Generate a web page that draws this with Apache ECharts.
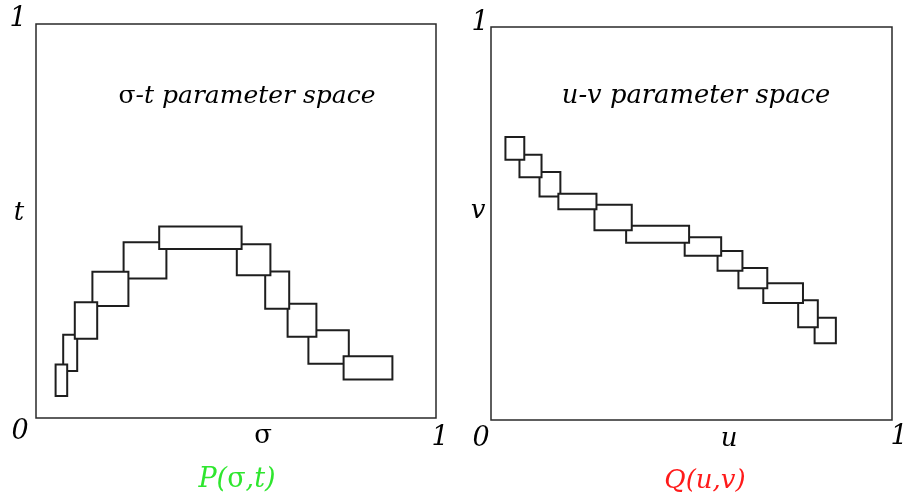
<!DOCTYPE html>
<html>
<head>
<meta charset="utf-8">
<script src="https://cdn.jsdelivr.net/npm/echarts@6/dist/echarts.min.js"></script>
<style>
html,body{margin:0;padding:0;background:#fff;}
#chart{width:909px;height:500px;}
</style>
</head>
<body>
<div id="chart"></div>
<script>
// Cells in sigma-t parameter space: [x0, y0, x1, y1] (unit square)
var sigmaTCells = [
  [0.049, 0.056, 0.078, 0.136],
  [0.068, 0.119, 0.103, 0.211],
  [0.097, 0.201, 0.153, 0.294],
  [0.141, 0.284, 0.231, 0.371],
  [0.219, 0.354, 0.326, 0.446],
  [0.308, 0.429, 0.514, 0.486],
  [0.502, 0.362, 0.586, 0.441],
  [0.573, 0.277, 0.633, 0.372],
  [0.629, 0.206, 0.701, 0.290],
  [0.681, 0.138, 0.782, 0.223],
  [0.769, 0.098, 0.891, 0.157]
];
// Cells in u-v parameter space: [x0, y0, x1, y1]
var uvCells = [
  [0.036, 0.662, 0.083, 0.720],
  [0.071, 0.618, 0.126, 0.675],
  [0.121, 0.569, 0.173, 0.631],
  [0.168, 0.536, 0.263, 0.576],
  [0.258, 0.483, 0.351, 0.548],
  [0.337, 0.451, 0.494, 0.494],
  [0.483, 0.418, 0.574, 0.465],
  [0.565, 0.380, 0.627, 0.430],
  [0.617, 0.335, 0.689, 0.387],
  [0.679, 0.298, 0.778, 0.348],
  [0.766, 0.236, 0.815, 0.305],
  [0.807, 0.195, 0.860, 0.260]
];
var axisEndLabels = ['0', '1'];
var leftTitle = 'σ-t parameter space';
var rightTitle = 'u-v parameter space';
var leftAxisNames = ['σ', 't'];
var rightAxisNames = ['u', 'v'];
var leftFunc = 'P(σ,t)';
var rightFunc = 'Q(u,v)';

// drawing order (stacking) of overlapping cells
var sigmaTLayer = [3, 1, 3, 2, 0, 4, 3, 2, 1, 0, 1];
var uvLayer = [11, 10, 8, 9, 7, 6, 5, 4, 3, 2, 1, 0];

var chart = echarts.init(document.getElementById('chart'));
var FONT = 'DejaVu Serif';

function hiddenAxis(idx) {
  return {type: 'value', min: 0, max: 1, gridIndex: idx,
    axisLine: {show: false}, axisTick: {show: false},
    axisLabel: {show: false}, splitLine: {show: false}};
}
function cellSeries(cells, layers, idx) {
  return {
    type: 'custom', xAxisIndex: idx, yAxisIndex: idx,
    data: cells.map(function (c, i) { return c.concat([layers[i]]); }),
    encode: {x: [0, 2], y: [1, 3]},
    renderItem: function (params, api) {
      var p0 = api.coord([api.value(0), api.value(1)]);
      var p1 = api.coord([api.value(2), api.value(3)]);
      return {
        type: 'rect',
        z2: api.value(4),
        shape: {x: p0[0], y: p1[1], width: p1[0] - p0[0], height: p0[1] - p1[1]},
        style: {fill: '#fff', stroke: '#1e1e1e', lineWidth: 2}
      };
    }
  };
}
function txt(s, x, y, size, color, italic) {
  return {type: 'text', x: x, y: y, style: {
    text: s, fontFamily: FONT, fontSize: size, fontStyle: italic === false ? 'normal' : 'italic',
    fill: color || '#000', align: 'center', verticalAlign: 'middle'}};
}
function richTitle(greek, rest, x, y, size, color) {
  return {type: 'text', x: x, y: y, style: {
    text: '{g|' + greek + '}{r|' + rest + '}',
    align: 'center', verticalAlign: 'middle',
    rich: {
      g: {fontFamily: FONT, fontSize: size, fontStyle: 'normal', fill: color},
      r: {fontFamily: FONT, fontSize: size, fontStyle: 'italic', fill: color}
    }}};
}

chart.setOption({
  animation: false,
  backgroundColor: '#fff',
  grid: [
    {left: 36, top: 24, width: 400, height: 394, show: true, borderColor: '#2a2a2a', borderWidth: 1.5},
    {left: 491, top: 27, width: 401, height: 393, show: true, borderColor: '#2a2a2a', borderWidth: 1.5}
  ],
  xAxis: [hiddenAxis(0), hiddenAxis(1)],
  yAxis: [hiddenAxis(0), hiddenAxis(1)],
  series: [cellSeries(sigmaTCells, sigmaTLayer, 0), cellSeries(uvCells, uvLayer, 1)],
  graphic: [
    txt(axisEndLabels[1], 18, 19, 27),
    txt(axisEndLabels[0], 20, 432, 27),
    txt(axisEndLabels[1], 440, 438, 27),
    txt(axisEndLabels[1], 480, 23, 27),
    txt(axisEndLabels[0], 481, 439, 27),
    txt(axisEndLabels[1], 899, 437, 27),
    txt(leftAxisNames[0], 263, 436, 26, '#000', false),
    txt(leftAxisNames[1], 19, 213, 26),
    txt(rightAxisNames[0], 729, 439, 26),
    txt(rightAxisNames[1], 478, 211, 26),
    richTitle(leftTitle.charAt(0), leftTitle.slice(1), 247, 96, 25, '#000'),
    {type: 'text', x: 696, y: 96, style: {text: rightTitle, fontFamily: FONT, fontSize: 25.8,
      fontStyle: 'italic', fill: '#000', align: 'center', verticalAlign: 'middle'}},
    {type: 'text', x: 237, y: 480, style: {
      text: '{r|P(}{g|σ}{r|,t)}', align: 'center', verticalAlign: 'middle',
      rich: {r: {fontFamily: FONT, fontSize: 27, fontStyle: 'italic', fill: '#2ee62e'},
             g: {fontFamily: FONT, fontSize: 27, fontStyle: 'normal', fill: '#2ee62e'}}}},
    txt(rightFunc, 705, 481, 26, '#ff1a1a')
  ]
});
</script>
</body>
</html>
